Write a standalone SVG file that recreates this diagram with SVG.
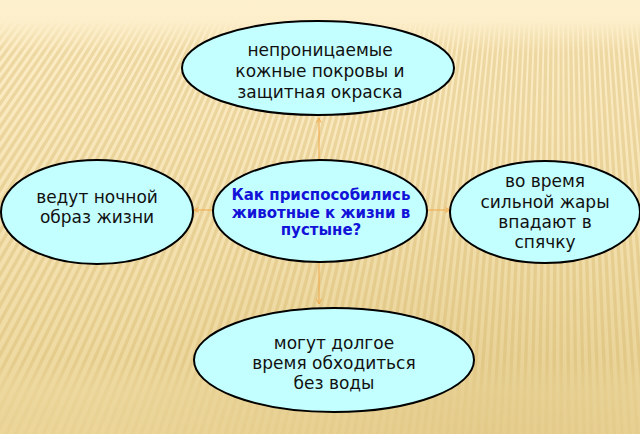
<svg xmlns="http://www.w3.org/2000/svg" width="640" height="434" viewBox="0 0 640 434">
<defs>
<linearGradient id="bg" x1="0" y1="0" x2="0" y2="1">
<stop offset="0" stop-color="#fdf0cd"/>
<stop offset="0.15" stop-color="#fcecc4"/>
<stop offset="0.6" stop-color="#f3e0ad"/>
<stop offset="1" stop-color="#ebd598"/>
</linearGradient>
<radialGradient id="shade" cx="0.75" cy="1" r="0.6">
<stop offset="0" stop-color="#d8bd78" stop-opacity="0.35"/>
<stop offset="1" stop-color="#d8bd78" stop-opacity="0"/>
</radialGradient>
<linearGradient id="fade" x1="0" y1="0" x2="0" y2="434" gradientUnits="userSpaceOnUse">
<stop offset="0" stop-color="#fff" stop-opacity="0"/>
<stop offset="0.05" stop-color="#fff" stop-opacity="0"/>
<stop offset="0.12" stop-color="#fff" stop-opacity="1"/>
<stop offset="0.83" stop-color="#fff" stop-opacity="1"/>
<stop offset="0.9" stop-color="#fff" stop-opacity="0.35"/>
<stop offset="1" stop-color="#fff" stop-opacity="0.3"/>
</linearGradient>
<mask id="m"><rect width="640" height="434" fill="url(#fade)"/></mask>
<filter id="soft" filterUnits="userSpaceOnUse" x="0" y="0" width="640" height="434"><feGaussianBlur stdDeviation="0.7"/></filter>
<marker id="ah" viewBox="0 0 10 10" refX="9" refY="5" markerWidth="6" markerHeight="6" markerUnits="userSpaceOnUse" orient="auto">
<path d="M1,1 L9,5 L1,9" fill="none" stroke="#f0a848" stroke-width="1.5"/>
</marker>
<style>
.node ellipse{fill:#c4ffff;stroke:#000;stroke-width:2}
.node text{font-family:"DejaVu Sans","Liberation Sans",sans-serif;font-size:17px;fill:#111;text-anchor:middle}
#center text{font-weight:bold;font-size:15px;fill:#1212d8}
.conn{stroke:#f0a848;stroke-width:1;fill:none;marker-end:url(#ah)}
</style>
</defs>
<rect width="640" height="434" fill="url(#bg)"/>
<rect width="640" height="434" fill="url(#shade)"/>
<g mask="url(#m)">
<circle cx="560" cy="-700" r="1000" fill="none" stroke="#d6b66c" stroke-opacity="0.38" stroke-width="600" stroke-dasharray="3.3 3.4" filter="url(#soft)"/>
</g>
<g id="connectors">
<path class="conn" d="M319 160 L319 118"/>
<path class="conn" d="M213 210 L194 210"/>
<path class="conn" d="M427 210 L450 210"/>
<path class="conn" d="M319 262 L319 304"/>
</g>
<g id="top" class="node">
<ellipse cx="318" cy="68" rx="136" ry="47"/>
<text x="320" y="56">непроницаемые</text>
<text x="320" y="77">кожные покровы и</text>
<text x="320" y="98">защитная окраска</text>
</g>
<g id="left" class="node">
<ellipse cx="97" cy="212" rx="96" ry="52"/>
<text x="97" y="203">ведут ночной</text>
<text x="97" y="223">образ жизни</text>
</g>
<g id="center" class="node">
<ellipse cx="320" cy="211" rx="107" ry="51"/>
<text x="321" y="200">Как приспособились</text>
<text x="321" y="218">животные к жизни в</text>
<text x="321" y="235">пустыне?</text>
</g>
<g id="right" class="node">
<ellipse cx="545" cy="212" rx="95" ry="51"/>
<text x="545" y="187">во время</text>
<text x="545" y="208">сильной жары</text>
<text x="545" y="228">впадают в</text>
<text x="545" y="248">спячку</text>
</g>
<g id="bottom" class="node">
<ellipse cx="334" cy="360" rx="140" ry="52"/>
<text x="334" y="349">могут долгое</text>
<text x="334" y="369">время обходиться</text>
<text x="334" y="389">без воды</text>
</g>
</svg>
